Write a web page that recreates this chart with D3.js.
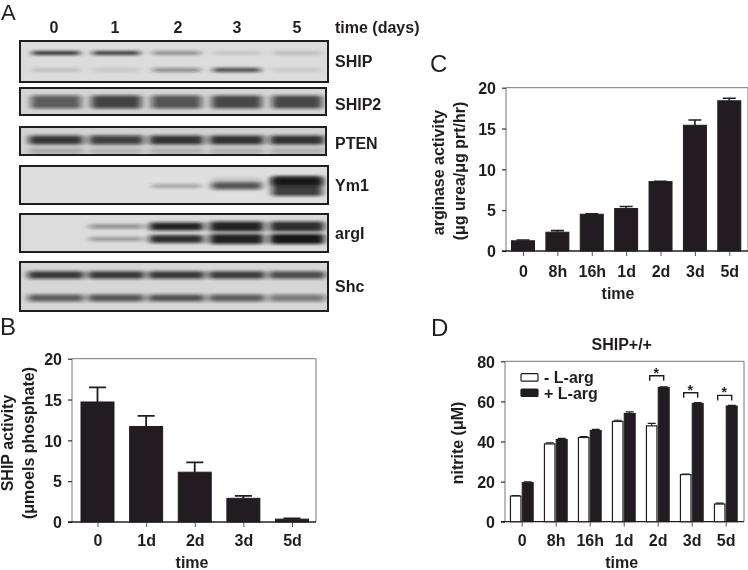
<!DOCTYPE html>
<html><head><meta charset="utf-8">
<script src="https://cdn.jsdelivr.net/npm/d3@7/dist/d3.min.js"></script>
<style>
html,body{margin:0;padding:0;background:#fff}
svg{display:block}
text{font-family:"Liberation Sans",Arial,sans-serif;fill:#231f20}
</style></head><body>
<script>
// ---------- data ----------
const laneLabels=["0","1","2","3","5"];
const blotNames=["SHIP","SHIP2","PTEN","Ym1","argI","Shc"];
const shipUpper=[.95,.9,.45,.12,.16];
const shipLower=[.14,.1,.42,.75,.09];
const ship2Band=[.62,.74,.66,.72,.72];
const ptenMain=[.8,.76,.82,.82,.82];
const ptenFaint=[.2,.14,.16,.16,.16];
const ym1Band=[0,0,.26,.66,.78];
const ym1Core=[0,0,0,.12,.8];
const ym1Spread=[0,0,4,7,20];
const argUpper=[0,.42,.9,.9,.85];
const argLower=[0,.36,.85,.9,.97];
const argSpread=[0,4,8,10,10];
const shcUpper=[.8,.8,.8,.78,.7];
const shcLower=[.62,.65,.68,.62,.48];

const timesB=["0","1d","2d","3d","5d"];
const shipActivity=[14.7,11.7,6.1,2.9,.35];
const shipActivityTop=[16.5,13,7.3,3.2,.45];

const timesCD=["0","8h","16h","1d","2d","3d","5d"];
const arginase=[1.25,2.3,4.5,5.2,8.5,15.4,18.4];
const arginaseTop=[1.35,2.5,4.55,5.45,8.55,16.05,18.7];

const nitriteMinus=[12.8,38.8,42,50,47.8,23.5,8.8];
const nitriteMinusTop=[13,39.3,42.5,50.6,49,23.7,9.3];
const nitritePlus=[19.5,41,45.5,54,67,59,57.7];
const nitritePlusTop=[19.9,41.6,46,54.8,67.3,59.4,58];
const sigTimes=["2d","3d","5d"];
const sigLevels=[72.8,64.3,63];

// ---------- page ----------
const ink="#231f20";
const svg=d3.select("body").append("svg").attr("width",748).attr("height",570);
const defs=svg.append("defs");
const soft=defs.append("filter").attr("id","soft").attr("x","-5%").attr("y","-5%").attr("width","110%").attr("height","110%");
soft.append("feGaussianBlur").attr("stdDeviation",.4);
const bandBlur=defs.append("filter").attr("id","band").attr("x","-30%").attr("y","-150%").attr("width","160%").attr("height","400%");
bandBlur.append("feGaussianBlur").attr("stdDeviation","3.5 1.8");
const root=svg.append("g").attr("filter","url(#soft)");

function label(t,x,y,o={}){
  return root.append("text").text(t).attr("x",x).attr("y",y)
    .attr("text-anchor",o.anchor||"start").attr("font-size",o.size||16)
    .attr("font-weight",o.weight||"bold")
    .attr("transform",o.rot?`rotate(${o.rot} ${x} ${y})`:null);
}
[["A",1,20,22],["B",0,335,24],["C",430,72,24],["D",431,336,24]].forEach(d=>label(d[0],d[1],d[2],{size:d[3],weight:"normal"}));

// ---------- panel A ----------
const lane=d3.scalePoint().domain(d3.range(5)).range([56,297]);
laneLabels.forEach((l,i)=>label(l,[54,115,178,237,297][i],33,{anchor:"middle"}));
label("time (days)",335,33);
const blots=[
 {name:"SHIP",x1:328,y0:41,y1:82,w:48,base:"#dcdcdc",rows:[{at:12,vals:shipUpper,th:3.6},{at:29,vals:shipLower,th:4}],ty:67},
 {name:"SHIP2",x1:326,y0:88,y1:115,w:50,base:"#d4d4d4",rows:[{at:14,vals:ship2Band,th:13}],ty:110},
 {name:"PTEN",x1:326,y0:127,y1:155,w:54,base:"#d2d2d2",rows:[{at:13,vals:ptenMain,th:9},{at:24,vals:ptenFaint,th:6}],ty:149},
 {name:"Ym1",x1:328,y0:166,y1:204,w:50,base:"#dfdfdf",rows:[{at:20,vals:ym1Band,spread:ym1Spread},{at:15.5,vals:ym1Core,th:8}],ty:191},
 {name:"argI",x1:328,y0:214,y1:252,w:54,base:"#dcdcdc",rows:[{at:12.5,vals:argUpper,spread:argSpread},{at:25,vals:argLower,spread:argSpread}],ty:239},
 {name:"Shc",x1:328,y0:262,y1:311,w:56,base:"#d6d6d6",rows:[{at:13,vals:shcUpper,th:7.5},{at:36,vals:shcLower,th:7}],ty:292}
];
blots.forEach((b,k)=>{
  const id="clip"+k,h=b.y1-b.y0,wd=b.x1-20;
  defs.append("clipPath").attr("id",id).append("rect").attr("x",20).attr("y",b.y0).attr("width",wd).attr("height",h);
  const g=root.append("g");
  g.append("rect").attr("x",20).attr("y",b.y0).attr("width",wd).attr("height",h).attr("fill",b.base);
  const c=g.append("g").attr("clip-path",`url(#${id})`);
  b.rows.forEach(r=>{
    c.append("g").attr("filter","url(#band)").selectAll("rect").data(r.vals).join("rect")
      .attr("x",(d,i)=>lane(i)-b.w/2)
      .attr("width",b.w)
      .attr("y",(d,i)=>b.y0+r.at-(r.spread?r.spread[i]:r.th)/2)
      .attr("height",(d,i)=>r.spread?r.spread[i]:r.th)
      .attr("rx",2)
      .attr("fill","#111").attr("opacity",d=>d);
  });
  g.append("rect").attr("x",20).attr("y",b.y0).attr("width",wd).attr("height",h)
    .attr("fill","none").attr("stroke",ink).attr("stroke-width",2);
  label(blotNames[k],335,b.ty);
});

// ---------- shared chart frame ----------
function frame(o){
  const g=root.append("g");
  const y=d3.scaleLinear().domain([0,o.max]).range([o.bottom,o.top]);
  const x=d3.scalePoint().domain(o.cats).range(o.centers);
  g.append("path").attr("d",`M${o.left},${o.bottom}V${o.top}H${o.right}V${o.bottom}`)
    .attr("fill","none").attr("stroke","#777").attr("stroke-width",1);
  const ay=g.append("g").attr("transform",`translate(${o.left},0)`)
    .call(d3.axisLeft(y).tickValues(o.ticks).tickSize(4).tickPadding(o.pad));
  const ax=g.append("g").attr("transform",`translate(0,${o.bottom})`)
    .call(d3.axisBottom(x).tickSize(5).tickPadding(0));
  ay.select(".domain").remove(); 
  ax.select(".domain").attr("d",`M${o.left-4},0H${o.right}`).attr("stroke",ink).attr("stroke-width",1.3);
  ay.selectAll("line").attr("stroke",ink).attr("stroke-width",1.1);
  ax.selectAll("line").attr("stroke","#555").attr("stroke-width",1);
  ay.selectAll("text").attr("font-size",16).attr("font-weight","bold").attr("dy",".36em")
    .attr("font-family",'"Liberation Sans",Arial,sans-serif').attr("fill",ink);
  ax.selectAll("text").attr("font-size",16).attr("font-weight","bold")
    .attr("font-family",'"Liberation Sans",Arial,sans-serif').attr("fill",ink)
    .attr("y",o.xLabelY-o.bottom).attr("dy",0);
  return {g,x,y};
}
function bars(f,cats,vals,tops,o){
  const gg=f.g.append("g");
  vals.forEach((v,i)=>{
    const cx=f.x(cats[i])+o.off;
    gg.append("path").attr("d",`M${cx},${f.y(v)}V${f.y(tops[i])}M${cx-o.cap/2},${f.y(tops[i])}H${cx+o.cap/2}`)
      .attr("stroke",ink).attr("stroke-width",o.ew).attr("fill","none");
    gg.append("rect").attr("x",cx-o.w/2).attr("width",o.w)
      .attr("y",f.y(v)).attr("height",f.y(0)-f.y(v))
      .attr("fill",o.fill).attr("stroke",ink).attr("stroke-width",o.sw);
  });
}

// ---------- panel B ----------
const fB=frame({cats:timesB,centers:[97.5,292],left:72,right:316,top:358.7,bottom:522,max:20,ticks:[0,5,10,15,20],pad:6,xLabelY:546});
bars(fB,timesB,shipActivity,shipActivityTop,{off:0,w:33,cap:17,ew:1.8,fill:ink,sw:1});
label("time",192,568,{anchor:"middle"});
label("SHIP activity",13,443,{anchor:"middle",rot:-90});
label("(μmoels phosphate)",34,443,{anchor:"middle",rot:-90});

// ---------- panel C ----------
const fC=frame({cats:timesCD,centers:[523,729.3],left:506,right:748,top:87.7,bottom:251,max:20,ticks:[0,5,10,15,20],pad:6,xLabelY:277});
bars(fC,timesCD,arginase,arginaseTop,{off:0,w:23,cap:13,ew:1.6,fill:ink,sw:1});
label("time",618,299,{anchor:"middle"});
label("arginase activity",444,172.5,{anchor:"middle",rot:-90});
label("(μg urea/μg prt/hr)",464.5,171,{anchor:"middle",rot:-90});

// ---------- panel D ----------
const fD=frame({cats:timesCD,centers:[521.7,725.7],left:505,right:744,top:361.3,bottom:521.7,max:80,ticks:[0,20,40,60,80],pad:6,xLabelY:545.7});
bars(fD,timesCD,nitriteMinus,nitriteMinusTop,{off:-6,w:10.5,cap:8,ew:1.2,fill:"#fff",sw:1.2});
bars(fD,timesCD,nitritePlus,nitritePlusTop,{off:6,w:11,cap:8,ew:1.2,fill:ink,sw:1});
sigTimes.forEach((t,i)=>{
  const cx=fD.x(t),yy=fD.y(sigLevels[i]);
  fD.g.append("path").attr("d",`M${cx-8},${yy+5}V${yy}H${cx+6}V${yy+5}`)
    .attr("fill","none").attr("stroke",ink).attr("stroke-width",1.4);
  fD.g.append("text").text("*").attr("x",cx-1.5).attr("y",yy+2).attr("text-anchor","middle").attr("font-size",14).attr("font-weight","bold");
});
label("time",621.7,568,{anchor:"middle"});
label("nitrite (μM)",462.7,443,{anchor:"middle",rot:-90});
label("SHIP+/+",621.7,350,{anchor:"middle"});
const legendNames=["- L-arg","+ L-arg"];
legendNames.forEach((n,i)=>{
  const ly=[373.7,389][i];
  root.append("rect").attr("x",521).attr("y",ly).attr("width",17).attr("height",7.5).attr("rx",1)
    .attr("fill",i?ink:"#fff").attr("stroke",ink).attr("stroke-width",1.2);
  label(n,544,[382.7,399.3][i]);
});
</script></body></html>
